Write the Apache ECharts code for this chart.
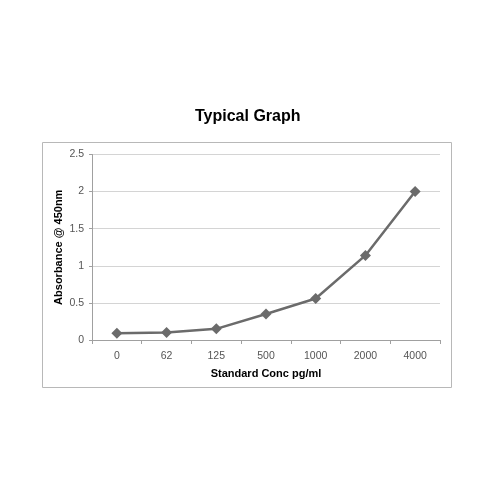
<!DOCTYPE html>
<html>
<head>
<meta charset="utf-8">
<style>
  html, body { margin: 0; padding: 0; background: #fff; }
  #chart { width: 500px; height: 500px; }
</style>
<script src="https://cdn.jsdelivr.net/npm/echarts@6/dist/echarts.min.js"></script>
</head>
<body>
<div id="chart"></div>
<script>
// standard curve data
var concLabels = ['0', '62', '125', '500', '1000', '2000', '4000'];
var absorbance = [0.09, 0.10, 0.15, 0.35, 0.56, 1.14, 2.0];
var yTicks = [0, 0.5, 1, 1.5, 2, 2.5];

var myChart = echarts.init(document.getElementById('chart'));

var option = {
    backgroundColor: '#fff',
    animation: false,
    title: {
        text: 'Typical Graph',
        left: 190,
        top: 104,
        textStyle: {
            fontFamily: 'Liberation Sans, Arial, sans-serif',
            fontSize: 16,
            fontWeight: 'bold',
            color: '#000'
        }
    },
    // outer chart frame
    graphic: [{
        type: 'rect',
        shape: { x: 42.5, y: 142.5, width: 409, height: 245 },
        style: { fill: 'none', stroke: '#b8b8b8', lineWidth: 1 },
        z: -1
    }],
    grid: {
        left: 92,
        right: 60,
        top: 154.5,
        bottom: 160
    },
    xAxis: {
        type: 'category',
        data: concLabels,
        boundaryGap: true,
        name: 'Standard Conc pg/ml',
        nameLocation: 'middle',
        nameGap: 28,
        nameTextStyle: {
            fontFamily: 'Liberation Sans, Arial, sans-serif',
            fontSize: 11,
            fontWeight: 'bold',
            color: '#000'
        },
        axisLine: { lineStyle: { color: '#a0a0a0', width: 1 } },
        axisTick: { show: true, alignWithLabel: false, length: 4, lineStyle: { color: '#a0a0a0' } },
        axisLabel: {
            margin: 11,
            fontFamily: 'Liberation Sans, Arial, sans-serif',
            fontSize: 10.5,
            color: '#555'
        },
        splitLine: { show: false }
    },
    yAxis: {
        type: 'value',
        min: yTicks[0],
        max: yTicks[yTicks.length - 1],
        interval: 0.5,
        name: 'Absorbance @ 450nm',
        nameLocation: 'middle',
        nameGap: 28,
        nameMoveOverlap: false,
        nameTextStyle: {
            fontFamily: 'Liberation Sans, Arial, sans-serif',
            fontSize: 11,
            fontWeight: 'bold',
            color: '#000',
            padding: [0, 0, 0, 0]
        },
        axisLine: { show: true, lineStyle: { color: '#a0a0a0', width: 1 } },
        axisTick: { show: true, length: 3, inside: false, lineStyle: { color: '#a0a0a0' } },
        axisLabel: {
            margin: 8,
            fontFamily: 'Liberation Sans, Arial, sans-serif',
            fontSize: 10.5,
            color: '#555'
        },
        splitLine: { show: true, lineStyle: { color: '#d4d4d4', width: 1 } }
    },
    series: [{
        type: 'line',
        data: absorbance,
        symbol: 'diamond',
        symbolSize: 11,
        lineStyle: { color: '#6b6b6b', width: 2.5 },
        itemStyle: { color: '#6b6b6b' }
    }]
};

myChart.setOption(option);
</script>
</body>
</html>
